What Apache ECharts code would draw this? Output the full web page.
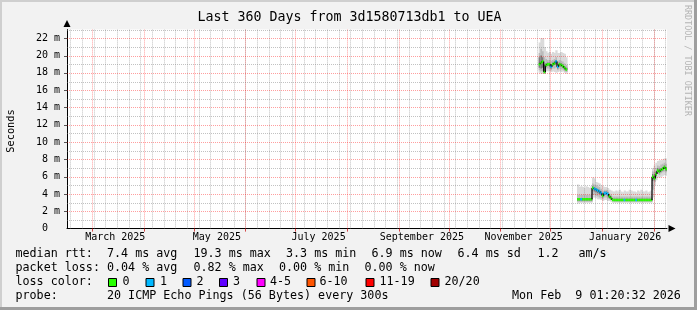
<!DOCTYPE html>
<html><head><meta charset="utf-8">
<script src="https://cdn.jsdelivr.net/npm/echarts@6/dist/echarts.min.js"></script>
<style>html,body{margin:0;padding:0;background:#f2f2f2}#c{width:697px;height:310px}</style>
</head><body><div id="c"></div><script>
// ---------- data ----------
const START = Date.UTC(2025, 1, 14, 1, 20, 32);
const DAY_MS = 86400000;
const TOTAL_DAYS = 360;
const titleText = 'Last 360 Days from 3d1580713db1 to UEA';
const yAxisName = 'Seconds';
const watermark = 'RRDTOOL / TOBI OETIKER';
const monthLabels = ['March 2025', 'May 2025', 'July 2025', 'September 2025', 'November 2025', 'January 2026'];
const monthLabelDates = [[2025, 2, 15], [2025, 4, 15], [2025, 6, 15], [2025, 8, 15], [2025, 10, 15], [2026, 0, 15]];
const yTickValues = [0, 2, 4, 6, 8, 10, 12, 14, 16, 18, 20, 22];
const days = [283,284,285,286,287,288,289,290,291,292,293,294,295,296,297,298,299,
  306,307,308,309,310,311,312,313,314,
  315,316,317,318,319,320,321,322,323,324,325,326,327,
  328,329,330,331,332,333,334,335,336,337,338,339,340,341,342,343,344,345,346,347,348,349,350,
  351,352,353,354,355,356,357,358,359];
const median = [19.0,19.2,19.3,18.1,18.9,19.0,19.0,18.7,19.0,19.1,19.3,18.7,19.0,18.9,18.8,18.6,18.4,
  3.4,3.4,3.4,3.4,3.4,3.4,3.4,3.4,3.4,
  4.7,4.6,4.5,4.4,4.3,4.1,3.8,4.1,4.1,4.0,3.7,3.5,3.3,
  3.3,3.3,3.3,3.3,3.3,3.3,3.3,3.3,3.3,3.3,3.3,3.3,3.3,3.3,3.3,3.3,3.3,3.3,3.3,3.3,3.3,3.3,3.3,
  6.0,5.8,6.3,6.7,6.6,6.8,6.9,7.1,6.9];
const loss = [0,0,0,0,0,0,0,1,0,0,1,1,0,0,0,0,0,
  0,0,1,0,0,0,0,0,0,
  0,1,1,1,1,1,0,1,1,1,0,0,0,
  0,0,0,0,0,0,1,0,0,0,0,0,0,1,0,0,0,0,0,0,0,0,0,
  0,0,0,0,0,0,0,0,0];
const smokeLo1 = [18.0,17.9,17.9,17.9,18.2,18.2,18.2,18.1,18.2,18.1,18.0,18.1,18.2,18.1,18.2,18.0,17.9,
  2.9,3.0,3.0,3.0,3.0,3.0,3.0,3.0,3.0,
  3.6,3.6,3.5,3.4,3.4,3.3,3.2,3.3,3.3,3.2,3.2,3.1,3.0,
  3.0,3.0,3.0,3.0,3.0,3.0,3.0,3.0,3.0,3.0,3.0,3.0,3.0,3.0,3.0,3.0,3.0,3.0,3.0,3.0,3.0,3.0,3.0,
  3.6,5.0,5.6,5.9,5.9,6.0,6.1,6.2,6.1];
const smokeHi1 = [21.5,22.0,22.0,21.0,20.5,20.3,20.4,20.2,20.4,20.3,20.6,20.3,20.3,20.4,20.3,20.2,19.8,
  5.1,4.8,4.9,4.8,4.7,4.9,4.8,4.7,4.9,
  5.9,5.8,5.4,5.3,5.2,5.0,4.9,4.8,4.8,4.7,4.5,4.4,4.3,
  4.3,4.4,4.3,4.5,4.3,4.2,4.4,4.3,4.3,4.5,4.4,4.3,4.3,4.2,4.4,4.3,4.5,4.3,4.3,4.4,4.2,4.3,4.4,
  7.0,7.3,7.6,7.8,7.9,7.9,8.0,8.1,8.1];
const smokeLo2 = [18.3,18.2,18.2,17.9,18.5,18.5,18.5,18.3,18.5,18.5,18.6,18.3,18.5,18.4,18.4,18.2,18.1,
  3.1,3.1,3.1,3.1,3.1,3.1,3.1,3.1,3.1,
  3.9,3.9,3.8,3.7,3.6,3.5,3.4,3.6,3.6,3.5,3.4,3.3,3.15,
  3.1,3.1,3.1,3.1,3.1,3.1,3.1,3.1,3.1,3.1,3.1,3.1,3.1,3.1,3.1,3.1,3.1,3.1,3.1,3.1,3.1,3.1,3.1,
  4.5,5.4,5.9,6.3,6.2,6.4,6.5,6.6,6.5];
const smokeHi2 = [20.3,20.8,20.5,19.8,19.6,19.5,19.5,19.4,19.5,19.6,19.8,19.4,19.5,19.4,19.3,19.1,18.9,
  3.9,3.9,3.9,3.9,3.9,3.9,3.9,3.9,3.9,
  5.2,5.1,5.0,4.9,4.8,4.6,4.3,4.5,4.5,4.4,4.1,3.9,3.7,
  3.7,3.7,3.7,3.7,3.7,3.7,3.7,3.7,3.7,3.7,3.7,3.7,3.7,3.7,3.7,3.7,3.7,3.7,3.7,3.7,3.7,3.7,3.7,
  6.6,6.6,7.0,7.3,7.2,7.4,7.5,7.6,7.5];
const smokeLo3 = [18.6,18.5,18.6,18.0,18.7,18.8,18.8,18.5,18.8,18.9,19.0,18.5,18.8,18.7,18.6,18.4,18.3,
  3.25,3.25,3.25,3.25,3.25,3.25,3.25,3.25,3.25,
  4.4,4.3,4.2,4.1,4.0,3.9,3.6,3.9,3.9,3.8,3.5,3.4,3.2,
  3.2,3.2,3.2,3.2,3.2,3.2,3.2,3.2,3.2,3.2,3.2,3.2,3.2,3.2,3.2,3.2,3.2,3.2,3.2,3.2,3.2,3.2,3.2,
  5.5,5.6,6.1,6.5,6.4,6.6,6.7,6.9,6.7];
const smokeHi3 = [19.8,20.0,19.8,19.0,19.1,19.2,19.2,18.9,19.2,19.3,19.5,18.9,19.2,19.1,19.0,18.8,18.6,
  3.55,3.55,3.55,3.55,3.55,3.55,3.55,3.55,3.55,
  4.9,4.8,4.7,4.6,4.5,4.3,4.0,4.3,4.3,4.2,3.9,3.7,3.45,
  3.45,3.45,3.45,3.45,3.45,3.45,3.45,3.45,3.45,3.45,3.45,3.45,3.45,3.45,3.45,3.45,3.45,3.45,3.45,3.45,3.45,3.45,3.45,
  6.3,6.1,6.6,7.0,6.9,7.0,7.1,7.3,7.1];
const lossColors = ['#26ff00', '#00b8ff', '#0059ff', '#5e00ff', '#ff00ff', '#ff5500', '#ff0000', '#a10000'];
const lossLabels = ['0', '1', '2', '3', '4-5', '6-10', '11-19', '20/20'];
const rttStats = ['median rtt:', '7.4 ms avg', '19.3 ms max', '3.3 ms min', '6.9 ms now', '6.4 ms sd', '1.2', 'am/s'];
const lossStats = ['packet loss:', '0.04 % avg', '0.82 % max', '0.00 % min', '0.00 % now'];
const lossColorTitle = 'loss color:';
const probeInfo = ['probe:', '20 ICMP Echo Pings (56 Bytes) every 300s', 'Mon Feb  9 01:20:32 2026'];

// ---------- helpers ----------
const dayOf = (y, m, d) => (Date.UTC(y, m, d) - START) / DAY_MS;
const labelDays = monthLabelDates.map(a => dayOf(a[0], a[1], a[2]));
const monthStarts = [];
for (let y = 2025, m = 2; dayOf(y, m, 1) < TOTAL_DAYS; m++) {
  if (m > 11) { m = 0; y++; }
  monthStarts.push(dayOf(y, m, 1));
}
const weekStarts = [];
for (let t = Date.UTC(2025, 1, 16); (t - START) / DAY_MS < TOTAL_DAYS; t += 7 * DAY_MS) weekStarts.push((t - START) / DAY_MS);

const MONO = '"DejaVu Sans Mono", monospace';
const MAJ = 'rgba(255,0,0,0.38)';
const MIN = 'rgba(120,120,120,0.45)';

const vGrid = weekStarts.map(d => [d, 1]).concat(monthStarts.map(d => [d, 0]));
const hGrid = [];
for (let v = 1; v <= 23; v++) hGrid.push([0, v, v % 2 === 0 ? 0 : 1]);

const smokeData = days.map((d, i) => [d, smokeLo1[i], smokeHi1[i], smokeLo2[i], smokeHi2[i], smokeLo3[i], smokeHi3[i]]);
const medData = days.map((d, i) => [d, median[i], loss[i], (i > 0 && days[i - 1] === d - 1) ? median[i - 1] : null]);

const chart = echarts.init(document.getElementById('c'), null, {renderer: 'canvas'});

function txt(x, y, s, size, extra) {
  return Object.assign({type: 'text', x: x, y: y, silent: true,
    style: {text: s, font: size + 'px ' + MONO, fill: '#000', align: 'left', verticalAlign: 'middle'}}, extra || {});
}
const graphics = [];
// frame shading
graphics.push({type: 'rect', shape: {x: 0, y: 0, width: 697, height: 2}, style: {fill: '#cfcfcf'}, silent: true});
graphics.push({type: 'rect', shape: {x: 0, y: 0, width: 2, height: 310}, style: {fill: '#cfcfcf'}, silent: true});
graphics.push({type: 'rect', shape: {x: 0, y: 307, width: 697, height: 3}, style: {fill: '#9e9e9e'}, silent: true});
graphics.push({type: 'rect', shape: {x: 694, y: 0, width: 3, height: 310}, style: {fill: '#9e9e9e'}, silent: true});
graphics.push(txt(349.5, 18, titleText, 13.3, {style: {text: titleText, font: '13.3px ' + MONO, fill: '#000', align: 'center', verticalAlign: 'middle'}}));
graphics.push({type: 'text', x: 11, y: 131, rotation: Math.PI / 2, silent: true,
  style: {text: yAxisName, font: '10.3px ' + MONO, fill: '#000', align: 'center', verticalAlign: 'middle'}});
graphics.push({type: 'text', x: 687, y: 5, rotation: -Math.PI / 2, silent: true,
  style: {text: watermark, font: '8.4px ' + MONO, fill: '#b4b4b4', align: 'left', verticalAlign: 'middle'}});
// legend lines
const rttX = [15.5, 107, 193.5, 286, 371.5, 457.5, 537.5, 578.5];
rttStats.forEach((s, i) => graphics.push(txt(rttX[i], 254.3, s, 11.7)));
const lossX = [15.5, 107, 193.5, 279, 364.5];
lossStats.forEach((s, i) => graphics.push(txt(lossX[i], 268.3, s, 11.7)));
graphics.push(txt(15.5, 282.3, lossColorTitle, 11.7));
const boxX = [108, 145.5, 182.5, 219, 256.5, 306.5, 365.5, 430.5];
const boxLblX = [122.5, 160, 196.5, 233, 270, 319.5, 379.5, 444.5];
lossLabels.forEach((s, i) => {
  graphics.push({type: 'rect', shape: {x: boxX[i] + 0.5, y: 278.5, width: 8, height: 8}, style: {fill: lossColors[i], stroke: '#000', lineWidth: 1}, silent: true});
  graphics.push(txt(boxLblX[i], 282.3, s, 11.7));
});
const probeX = [15.5, 107, 512];
probeInfo.forEach((s, i) => graphics.push(txt(probeX[i], 296.3, s, 11.7)));

const option = {
  animation: false,
  backgroundColor: '#f2f2f2',
  grid: {left: 67, top: 29.6, width: 600, height: 199, show: true, backgroundColor: '#ffffff', borderWidth: 0},
  xAxis: {
    type: 'value', min: 0, max: TOTAL_DAYS,
    axisLine: {show: true, onZero: false, lineStyle: {color: '#000', width: 1}, symbol: ['none', 'triangle'], symbolSize: [7, 7], symbolOffset: [0, 5]},
    axisTick: {show: false}, splitLine: {show: false},
    axisLabel: {customValues: labelDays, margin: 4, fontFamily: MONO, fontSize: 10, color: '#000',
      formatter: v => { const i = labelDays.findIndex(d => Math.abs(d - v) < 1e-6); return i >= 0 ? monthLabels[i] : ''; }}
  },
  yAxis: {
    type: 'value', min: 0, max: 23, interval: 2,
    axisLine: {show: true, onZero: false, lineStyle: {color: '#000', width: 1}, symbol: ['none', 'triangle'], symbolSize: [7, 7], symbolOffset: [0, 6]},
    axisTick: {show: false}, splitLine: {show: false},
    axisLabel: {margin: 7, fontFamily: MONO, fontSize: 10, color: '#000',
      formatter: v => yTickValues.indexOf(v) < 0 ? '' : (v === 0 ? '0  ' : v + ' m')}
  },
  graphic: {elements: graphics},
  series: [
    {
      type: 'custom', name: 'smoke', z: 2, silent: true, clip: true,
      data: smokeData, encode: {x: 0, y: 1},
      renderItem: (params, api) => {
        const d = api.value(0);
        const bands = [[1, 2, '#dadada'], [3, 4, '#bababa'], [5, 6, '#7a7a7a']];
        return {type: 'group', children: bands.map(b => {
          const p0 = api.coord([d, api.value(b[1])]);
          const p1 = api.coord([d + 1, api.value(b[0])]);
          return {type: 'rect', shape: {x: p0[0], y: p0[1], width: p1[0] - p0[0] + 0.6, height: p1[1] - p0[1]}, style: {fill: b[2]}};
        })};
      }
    },
    {
      type: 'custom', name: 'vgrid', z: 3, silent: true, clip: false,
      data: vGrid, encode: {x: 0, y: 1},
      renderItem: (params, api) => {
        const cs = params.coordSys;
        const x = Math.round(api.coord([api.value(0), 0])[0]) + 0.5;
        const major = api.value(1) === 0;
        return {type: 'group', children: [
          {type: 'line', shape: {x1: x, y1: cs.y, x2: x, y2: cs.y + cs.height}, style: {stroke: major ? MAJ : MIN, lineWidth: 1, lineDash: [1, 1]}},
          major ? {type: 'line', shape: {x1: x, y1: cs.y + cs.height, x2: x, y2: cs.y + cs.height + 3}, style: {stroke: 'rgba(200,0,0,0.7)', lineWidth: 1}} : {type: 'group'}
        ]};
      }
    },
    {
      type: 'custom', name: 'hgrid', z: 3, silent: true, clip: false,
      data: hGrid, encode: {x: 0, y: 1},
      renderItem: (params, api) => {
        const cs = params.coordSys;
        const y = Math.round(api.coord([0, api.value(1)])[1]) + 0.5;
        const major = api.value(2) === 0;
        return {type: 'group', children: [
          {type: 'line', shape: {x1: cs.x, y1: y, x2: cs.x + cs.width, y2: y}, style: {stroke: major ? MAJ : MIN, lineWidth: 1, lineDash: [1, 1]}},
          major ? {type: 'line', shape: {x1: cs.x - 3, y1: y, x2: cs.x, y2: y}, style: {stroke: '#555', lineWidth: 1}} : {type: 'group'}
        ]};
      }
    },
    {
      type: 'custom', name: 'median', z: 4, silent: true, clip: true,
      data: medData, encode: {x: 0, y: 1},
      renderItem: (params, api) => {
        const d = api.value(0), v = api.value(1), l = api.value(2), prev = api.value(3);
        const a = api.coord([d, v]), b = api.coord([d + 1, v]);
        const children = [];
        if (!isNaN(prev) && prev !== null) {
          const p = api.coord([d, prev]);
          children.push({type: 'line', shape: {x1: a[0], y1: p[1], x2: a[0], y2: a[1]}, style: {stroke: '#000', lineWidth: 1.2}});
        }
        children.push({type: 'line', shape: {x1: a[0], y1: a[1], x2: b[0], y2: b[1]}, style: {stroke: lossColors[l], lineWidth: 2.6}});
        return {type: 'group', children: children};
      }
    }
  ]
};
chart.setOption(option);
</script></body></html>
